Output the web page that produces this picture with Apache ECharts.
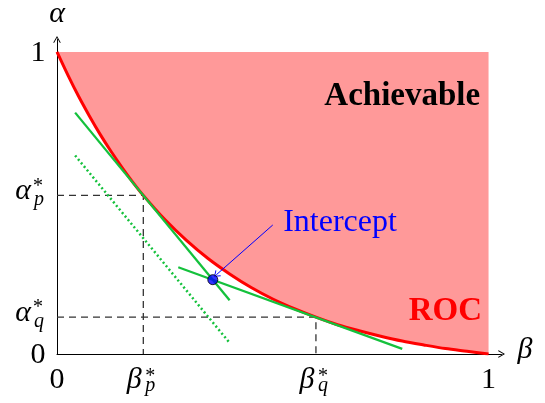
<!DOCTYPE html>
<html>
<head>
<meta charset="utf-8">
<title>ROC</title>
<script src="https://cdn.jsdelivr.net/npm/echarts@6/dist/echarts.min.js"></script>
<style>
html, body { margin: 0; padding: 0; background: #fff; }
#chart { width: 545px; height: 403px; }
</style>
</head>
<body>
<div id="chart"></div>
<script>
// ROC curve, beta on x, alpha on y
const rocBeta = [0, 0.025, 0.05, 0.075, 0.1, 0.125, 0.15, 0.175, 0.2, 0.25, 0.3, 0.35, 0.4, 0.45, 0.5, 0.55, 0.6, 0.65, 0.7, 0.75, 0.8, 0.85, 0.9, 0.95, 1]
const rocAlpha = [1, 0.924, 0.853, 0.788, 0.727, 0.671, 0.619, 0.570, 0.525, 0.445, 0.376, 0.316, 0.265, 0.220, 0.182, 0.150, 0.122, 0.097, 0.077, 0.059, 0.043, 0.030, 0.018, 0.009, 0]

// operating points and where the two tangents cross
const pointP = [0.2, 0.525]
const pointQ = [0.6, 0.122]
const intercept = [0.361, 0.246]

// straight lines, two end points each
const tangentP = [[0.042, 0.799], [0.4, 0.178]]
const tangentQ = [[0.281, 0.287], [0.8, 0.017]]
const shiftedP = [[0.042, 0.657], [0.4, 0.037]]

// tick labels
const xTickValues = [0, 0.2, 0.6, 1]
const xTickNames = ['0', 'β', 'β', '1']
const xTickSubs = ['', 'p', 'q', '']
const yTickValues = [0, 0.122, 0.525, 1]
const yTickNames = ['0', 'α', 'α', '1']
const yTickSubs = ['', 'q', 'p', '']

// text notes
const noteTexts = ['Achievable', 'ROC', 'Intercept']
const noteBeta = [0.8, 0.9, 0.524]
const noteAlpha = [0.853, 0.14, 0.434]
const arrowFrom = [0.5, 0.427]
const arrowTo = [0.369, 0.262]

const X_MAX = 1.03
const Y_MAX = 1.041
const SERIF = '"Liberation Serif", "DejaVu Serif", serif'
const GREEN = '#14c13c'
const ARROW = 'path://M5,0 L10,8.6 L9,9.4 L5,2.4 L1,9.4 L0,8.6 Z'

const chart = echarts.init(document.getElementById('chart'))

const txt = (x, y, text, size, extra) => ({
  type: 'text',
  x: x,
  y: y,
  style: Object.assign({
    text: text,
    fontFamily: SERIF,
    fontSize: size,
    fill: '#000',
    align: 'center',
    verticalAlign: 'middle',
  }, extra),
})

const renderXTick = (params, api) => {
  const i = api.value(2)
  const pt = api.coord([api.value(0), 0])
  if (!xTickSubs[i]) return txt(pt[0], pt[1] + 26, xTickNames[i], 30)
  return {
    type: 'group',
    children: [
      txt(pt[0] - 9, pt[1] + 26, xTickNames[i], 30, { fontStyle: 'italic' }),
      txt(pt[0] + 7, pt[1] + 23, '*', 20),
      txt(pt[0] + 7, pt[1] + 32, xTickSubs[i], 20, { fontStyle: 'italic' }),
    ],
  }
}

const renderYTick = (params, api) => {
  const i = api.value(2)
  const pt = api.coord([0, api.value(1)])
  if (!yTickSubs[i]) return txt(pt[0] - 19, pt[1] + 1, yTickNames[i], 30)
  return {
    type: 'group',
    children: [
      txt(pt[0] - 34, pt[1] - 4, yTickNames[i], 30, { fontStyle: 'italic' }),
      txt(pt[0] - 19, pt[1] - 9, '*', 20),
      txt(pt[0] - 18, pt[1] + 4.5, yTickSubs[i], 20, { fontStyle: 'italic' }),
    ],
  }
}

const noteStyles = [
  { fontWeight: 'bold', fontSize: 33, fill: '#000' },
  { fontWeight: 'bold', fontSize: 33, fill: '#ff0000' },
  { fontSize: 32, fill: '#0000ff', align: 'left' },
]

const renderNote = (params, api) => {
  const i = api.value(2)
  const pt = api.coord([api.value(0), api.value(1)])
  return txt(pt[0], pt[1], noteTexts[i], 32, noteStyles[i])
}

// axis names sit past the arrow tips
const renderAxisName = (params, api) => {
  const top = api.coord([0, Y_MAX])
  const right = api.coord([X_MAX, 0])
  return {
    type: 'group',
    children: [
      txt(top[0], top[1] - 25, 'α', 30, { fontStyle: 'italic' }),
      txt(right[0] + 23.5, right[1] - 4, 'β', 30, { fontStyle: 'italic' }),
    ],
  }
}

const curve = rocBeta.map((b, i) => [b, rocAlpha[i]])
const guide = p => [[0, p[1]], [p[0], p[1]], [p[0], 0]]

const plainAxis = {
  type: 'value',
  min: 0,
  axisTick: { show: false },
  axisLabel: { show: false },
  splitLine: { show: false },
}

const option = {
  animation: false,
  backgroundColor: '#fff',
  grid: { left: 57, right: 43.5, top: 39.5, bottom: 49 },
  xAxis: Object.assign({}, plainAxis, {
    max: X_MAX,
    axisLine: { onZero: false, symbol: ['none', ARROW], symbolSize: [10, 7], lineStyle: { color: '#000', width: 1 } },
  }),
  yAxis: Object.assign({}, plainAxis, {
    max: Y_MAX,
    axisLine: { onZero: false, symbol: ['none', ARROW], symbolSize: [10, 7], lineStyle: { color: '#000', width: 1 } },
  }),
  series: [
    {
      name: 'Achievable',
      type: 'line',
      data: curve,
      smooth: 0.3,
      symbol: 'none',
      lineStyle: { width: 0 },
      areaStyle: { color: '#ff9999', opacity: 1, origin: 1 },
      silent: true,
      z: 1,
    },
    {
      name: 'guideP',
      type: 'line',
      data: guide(pointP),
      symbol: 'none',
      lineStyle: { color: '#333', width: 1.3, type: [7, 5] },
      silent: true,
      z: 2,
    },
    {
      name: 'guideQ',
      type: 'line',
      data: guide(pointQ),
      symbol: 'none',
      lineStyle: { color: '#333', width: 1.3, type: [7, 5] },
      silent: true,
      z: 2,
    },
    {
      name: 'ROC',
      type: 'line',
      data: curve,
      smooth: 0.3,
      symbol: 'none',
      lineStyle: { color: '#ff0000', width: 3 },
      silent: true,
      z: 3,
    },
    {
      name: 'shifted',
      type: 'line',
      data: shiftedP,
      symbol: 'none',
      lineStyle: { color: GREEN, width: 2.5, type: [2, 2.6] },
      silent: true,
      z: 4,
    },
    {
      name: 'tangentP',
      type: 'line',
      data: tangentP,
      symbol: 'none',
      lineStyle: { color: GREEN, width: 2.3 },
      silent: true,
      z: 4,
    },
    {
      name: 'tangentQ',
      type: 'line',
      data: tangentQ,
      symbol: 'none',
      lineStyle: { color: GREEN, width: 2.3 },
      silent: true,
      z: 4,
    },
    {
      name: 'Intercept',
      type: 'scatter',
      data: [intercept],
      symbolSize: 10,
      itemStyle: { color: '#0000ff', borderColor: '#000', borderWidth: 1 },
      silent: true,
      z: 6,
      markLine: {
        silent: true,
        animation: false,
        symbol: ['none', ARROW],
        symbolSize: [8, 6],
        label: { show: false },
        lineStyle: { color: '#0000ff', width: 1, type: 'solid' },
        data: [[{ coord: arrowFrom }, { coord: arrowTo }]],
      },
    },
    {
      type: 'custom',
      renderItem: renderXTick,
      data: xTickValues.map((v, i) => [v, 0, i]),
      silent: true,
      z: 10,
    },
    {
      type: 'custom',
      renderItem: renderYTick,
      data: yTickValues.map((v, i) => [0, v, i]),
      silent: true,
      z: 10,
    },
    {
      type: 'custom',
      renderItem: renderNote,
      data: noteTexts.map((t, i) => [noteBeta[i], noteAlpha[i], i]),
      silent: true,
      z: 10,
    },
    {
      type: 'custom',
      renderItem: renderAxisName,
      data: [[0, 0]],
      silent: true,
      z: 10,
    },
  ],
}

chart.setOption(option)
window.addEventListener('resize', () => chart.resize())
</script>
</body>
</html>
